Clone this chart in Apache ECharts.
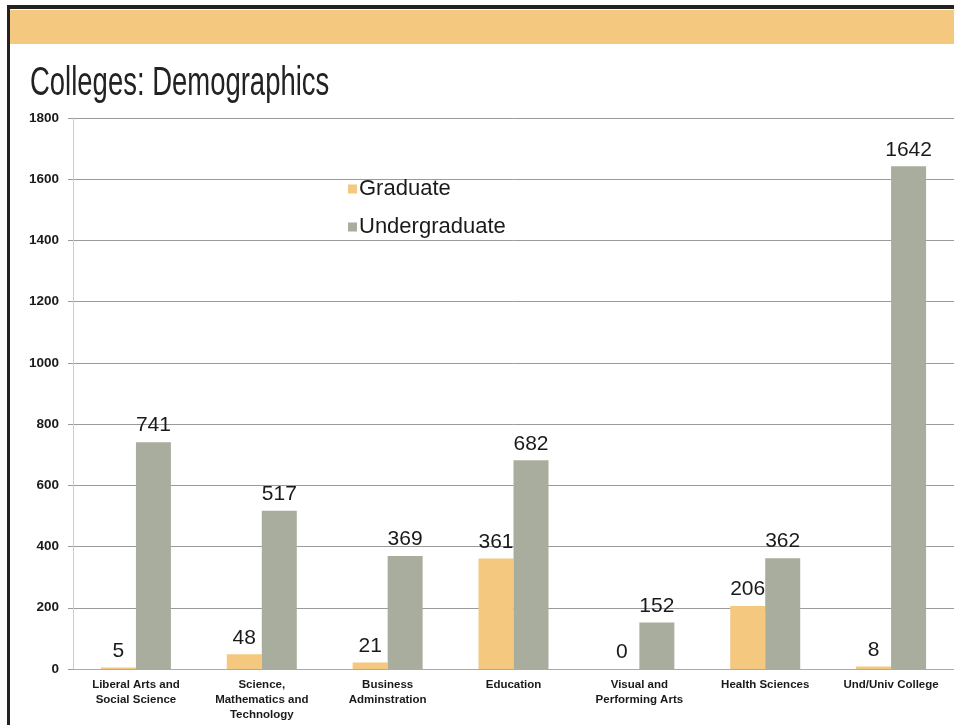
<!DOCTYPE html>
<html><head><meta charset="utf-8">
<script src="https://cdn.jsdelivr.net/npm/echarts@6/dist/echarts.min.js"></script>
<style>html,body{margin:0;padding:0;background:#fff}#c{width:954px;height:725px}</style>
</head><body><div id="c"></div>
<script>
const categories = ['Liberal Arts and\nSocial Science','Science,\nMathematics and\nTechnology','Business\nAdminstration','Education','Visual and\nPerforming Arts','Health Sciences','Und/Univ College'];
const graduate = [5, 48, 21, 361, 0, 206, 8];
const undergraduate = [741, 517, 369, 682, 152, 362, 1642];
const yTicks = [0, 200, 400, 600, 800, 1000, 1200, 1400, 1600, 1800];
const titleText = 'Colleges: Demographics';

const chart = echarts.init(document.getElementById('c'));
const labelStyle = {show: true, position: 'top', distance: 6, fontSize: 21, color: '#1a1a1a', fontFamily: 'Liberation Sans, Arial'};
chart.setOption({
  animation: false,
  backgroundColor: '#fff',
  legend: {orient: 'vertical', left: 343, top: 173, itemWidth: 9, itemHeight: 9, itemGap: 16,
    icon: 'rect', textStyle: {fontSize: 22, color: '#1a1a1a', fontFamily: 'Liberation Sans, Arial', padding: [0,0,0,-3]}},
  graphic: [
    {type: 'rect', shape: {x: 10, y: 10, width: 944, height: 34}, style: {fill: '#F4C97F'}, z: -1},
    {type: 'rect', shape: {x: 8, y: 5, width: 946, height: 4}, style: {fill: '#222'}},
    {type: 'rect', shape: {x: 7, y: 5, width: 3, height: 720}, style: {fill: '#222'}},
    {type: 'text', x: 30, y: 63, scaleX: 0.67, style: {text: titleText, fontSize: 41, fill: '#222', fontFamily: 'Liberation Sans, Arial'}}
  ],
  grid: {left: 73, top: 118, width: 896, bottom: 56, containLabel: false},
  xAxis: {type: 'category', data: categories,
    axisLine: {lineStyle: {color: '#aaa'}}, axisTick: {show: false},
    axisLabel: {interval: 0, fontSize: 11.5, fontWeight: 'bold', color: '#1a1a1a', lineHeight: 15, margin: 8, fontFamily: 'Liberation Sans, Arial'}},
  yAxis: {type: 'value', min: 0, max: 1800, interval: 200,
    axisLine: {show: true, lineStyle: {color: '#ccc'}},
    axisTick: {show: true, length: 5, lineStyle: {color: '#999'}},
    axisLabel: {fontSize: 13.5, fontWeight: 'bold', color: '#1a1a1a', margin: 14, fontFamily: 'Liberation Sans, Arial',
      formatter: v => yTicks.includes(v) ? String(v) : ''},
    splitLine: {lineStyle: {color: '#9a9a9a', width: 1}}},
  series: [
    {name: 'Graduate', type: 'bar', data: graduate, barWidth: 35, barGap: '0%',
      itemStyle: {color: '#F5C880'}, label: labelStyle},
    {name: 'Undergraduate', type: 'bar', data: undergraduate, barWidth: 35,
      itemStyle: {color: '#A9AD9E'}, label: labelStyle}
  ]
});
</script></body></html>
